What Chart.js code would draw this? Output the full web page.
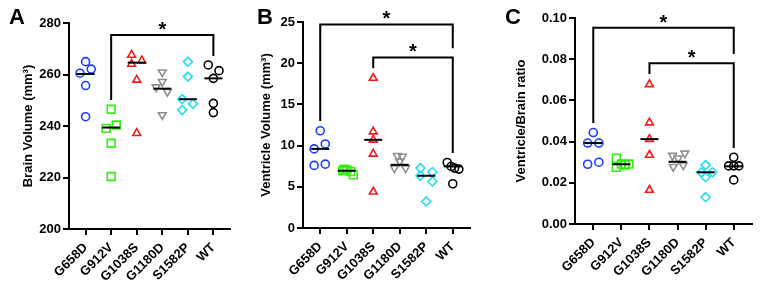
<!DOCTYPE html>
<html lang="en">
<head>
  <meta charset="UTF-8" />
  <title>Brain and ventricle volume</title>
  <script src="https://cdn.jsdelivr.net/npm/chart.js"></script>
  <style>
    body {
      margin: 0;
      background: #fff;
      font-family: 'Liberation Sans', Arial, sans-serif;
    }
    .wrap {
      position: relative;
      width: 766px;
      height: 289px;
    }
    canvas {
      position: absolute;
      top: 0;
    }
    .letter {
      position: absolute;
      top: 4px;
      font-weight: bold;
      font-size: 22px;
    }
  </style>
</head>
<body>
  <div class="wrap">
    <canvas id="chartA" width="250" height="289" style="left:0px"></canvas>
    <canvas id="chartB" width="250" height="289" style="left:250px"></canvas>
    <canvas id="chartC" width="266" height="289" style="left:500px"></canvas>
    <div class="letter" style="left:9px">A</div>
    <div class="letter" style="left:257px">B</div>
    <div class="letter" style="left:505px">C</div>
  </div>

  <script>
    const groups = ['G658D', 'G912V', 'G1038S', 'G1180D', 'S1582P', 'WT'];
    const colors = ['#1a3cff', '#33ee11', '#ee1c1c', '#8f8f8f', '#22ddee', '#000000'];
    const shapes = ['circle', 'rect', 'triangle', 'triangle', 'rectRot', 'circle'];
    const turns = [0, 0, 0, 180, 0, 0];
    const sizes = [4, 5.5, 4.5, 4.5, 4.5, 4];

    // panel A: brain volume (mm3)
    const brainVals = [
      [265.0, 262.1, 260.5, 255.7, 243.6],
      [246.5, 240.4, 239.1, 233.3, 220.4],
      [267.6, 265.4, 264.1, 257.9, 237.2],
      [260.9, 257.2, 255.1, 253.3, 244.3],
      [265.0, 259.2, 250.4, 248.6, 246.2],
      [263.7, 261.5, 258.5, 248.8, 245.2]
    ];
    const brainJitter = [
      [0, 0.22, -0.22, 0, 0],
      [0, 0.2, -0.2, 0, 0],
      [-0.2, 0.2, -0.2, 0, 0],
      [0, 0, -0.24, 0.2, 0],
      [0, 0, -0.22, 0.2, -0.22],
      [-0.2, 0.22, 0, 0, 0]
    ];
    const brainMedian = [260.2, 239.4, 264.6, 254.5, 250.4, 258.5];
    const brainTicks = [200, 220, 240, 260, 280];

    // panel B: ventricle volume (mm3)
    const ventVals = [
      [11.8, 10.2, 9.6, 7.75, 7.6],
      [7.15, 7.05, 6.95, 6.85, 6.45],
      [18.2, 11.7, 10.7, 9.0, 4.4],
      [8.76, 8.68, 8.07, 7.27, 7.27],
      [7.27, 6.79, 6.34, 5.65, 3.22],
      [7.95, 7.47, 7.27, 7.15, 5.37]
    ];
    const ventJitter = [
      [0, 0.19, -0.23, 0.19, -0.23],
      [-0.1, 0, -0.15, 0.15, 0.25],
      [0, 0, 0, 0, 0],
      [-0.09, 0.1, 0, -0.2, 0.22],
      [-0.22, 0.23, -0.22, 0.23, 0],
      [-0.21, -0.06, 0.07, 0.23, 0]
    ];
    const ventMedian = [9.6, 6.95, 10.7, 7.67, 6.34, 7.47];
    const ventTicks = [0, 5, 10, 15, 20, 25];

    // panel C: ventricle / brain ratio
    const ratioVals = [
      [0.0444, 0.0393, 0.0393, 0.0300, 0.0290],
      [0.0319, 0.0291, 0.0291, 0.0286, 0.0275],
      [0.0678, 0.0492, 0.0412, 0.0335, 0.0165],
      [0.0343, 0.0332, 0.0319, 0.0286, 0.0278],
      [0.0286, 0.0251, 0.0251, 0.0227, 0.0130],
      [0.0324, 0.0282, 0.0282, 0.0282, 0.0214]
    ];
    const ratioJitter = [
      [0, -0.2, 0.2, 0.2, -0.2],
      [-0.18, 0.27, 0, 0.13, -0.18],
      [0, 0, 0, 0, 0],
      [0.26, -0.18, 0.02, 0.2, -0.15],
      [0, -0.15, 0.24, 0, 0],
      [0, -0.18, 0.18, 0, 0]
    ];
    const ratioMedian = [0.0393, 0.029, 0.0412, 0.0302, 0.0251, 0.028];
    const ratioTicks = [0, 0.02, 0.04, 0.06, 0.08, 0.10];

    // significance brackets: [from group, to group, top, left end, right end]
    const brainSig = [[1, 5, 275.3, 250.1, 267.2]];
    const ventSig = [[0, 5, 24.7, 13.0, 21.8], [2, 5, 20.7, 19.4, 9.1]];
    const ratioSig = [[0, 5, 0.0953, 0.049, 0.0825], [2, 5, 0.078, 0.0728, 0.0369]];

    const FONT = "'Liberation Sans', Arial, sans-serif";

    const bracketPlugin = {
      id: 'brackets',
      afterDraw(chart) {
        const sig = chart.options.plugins.brackets.list || [];
        const x = chart.scales.x, y = chart.scales.y;
        const ctx = chart.ctx;
        ctx.save();
        ctx.strokeStyle = '#000';
        ctx.lineWidth = 2;
        ctx.fillStyle = '#000';
        ctx.font = 'bold 20px ' + FONT;
        ctx.textAlign = 'center';
        ctx.textBaseline = 'alphabetic';
        sig.forEach(b => {
          const x0 = x.getPixelForValue(b[0]);
          const x1 = x.getPixelForValue(b[1]);
          const yt = y.getPixelForValue(b[2]);
          ctx.beginPath();
          ctx.moveTo(x0, y.getPixelForValue(b[3]));
          ctx.lineTo(x0, yt);
          ctx.lineTo(x1, yt);
          ctx.lineTo(x1, y.getPixelForValue(b[4]));
          ctx.stroke();
          ctx.fillText('*', (x0 + x1) / 2, yt + 1);
        });
        ctx.restore();
      }
    };

    function makePanel(id, p) {
      const datasets = groups.map((g, i) => ({
        label: g,
        data: p.vals[i].map((v, k) => ({ x: i + p.jitter[i][k], y: v })),
        pointStyle: shapes[i],
        rotation: turns[i],
        pointRadius: sizes[i],
        borderColor: colors[i],
        backgroundColor: 'rgba(0,0,0,0)',
        borderWidth: 1.6,
        order: 1
      }));
      datasets.push({
        label: 'median',
        data: p.median.map((m, i) => ({ x: i, y: m })),
        pointStyle: 'line',
        pointRadius: 9,
        borderColor: '#000',
        borderWidth: 2,
        order: 0
      });

      return new Chart(document.getElementById(id), {
        type: 'scatter',
        data: { datasets },
        plugins: [bracketPlugin],
        options: {
          responsive: false,
          animation: false,
          layout: { padding: { left: p.padLeft, top: p.top, right: p.padRight, bottom: 0 } },
          plugins: {
            legend: { display: false },
            tooltip: { enabled: false },
            brackets: { list: p.sig }
          },
          scales: {
            x: {
              type: 'linear',
              min: -0.65,
              max: 5.65,
              afterBuildTicks: s => { s.ticks = groups.map((g, i) => ({ value: i })); },
              afterFit: s => { s.height = 289 - p.bottom; },
              ticks: {
                autoSkip: false,
                maxRotation: 45,
                minRotation: 45,
                padding: 5,
                color: '#000',
                font: { family: FONT, size: 13, weight: 'bold' },
                callback: v => groups[v]
              },
              grid: { drawOnChartArea: false, tickLength: 6, color: '#000', lineWidth: 2 },
              border: { color: '#000', width: 2 }
            },
            y: {
              min: p.ticks[0],
              max: p.ticks[p.ticks.length - 1],
              afterBuildTicks: s => { s.ticks = p.ticks.map(v => ({ value: v })); },
              afterFit: s => { s.width = p.left - p.padLeft; },
              ticks: {
                padding: 2,
                color: '#000',
                font: { family: FONT, size: 13, weight: 'bold' },
                callback: v => p.fmt(v)
              },
              grid: { drawOnChartArea: false, tickLength: 6, color: '#000', lineWidth: 2 },
              border: { color: '#000', width: 2 },
              title: {
                display: true,
                text: p.title,
                color: '#000',
                padding: { top: 0, bottom: 0 },
                font: { family: FONT, size: 13, weight: 'bold' }
              }
            }
          }
        }
      });
    }

    makePanel('chartA', {
      vals: brainVals, jitter: brainJitter, median: brainMedian, ticks: brainTicks, sig: brainSig,
      title: 'Brain Volume (mm\u00B3)', fmt: v => String(v),
      padLeft: 21, left: 69, top: 23, bottom: 229, padRight: 20
    });
    makePanel('chartB', {
      vals: ventVals, jitter: ventJitter, median: ventMedian, ticks: ventTicks, sig: ventSig,
      title: 'Ventricle Volume (mm\u00B3)', fmt: v => String(v),
      padLeft: 9, left: 53, top: 22, bottom: 228, padRight: 30
    });
    makePanel('chartC', {
      vals: ratioVals, jitter: ratioJitter, median: ratioMedian, ticks: ratioTicks, sig: ratioSig,
      title: 'Ventricle/Brain ratio', fmt: v => v.toFixed(2),
      padLeft: 14, left: 75, top: 18, bottom: 224, padRight: 14
    });
  </script>
</body>
</html>
